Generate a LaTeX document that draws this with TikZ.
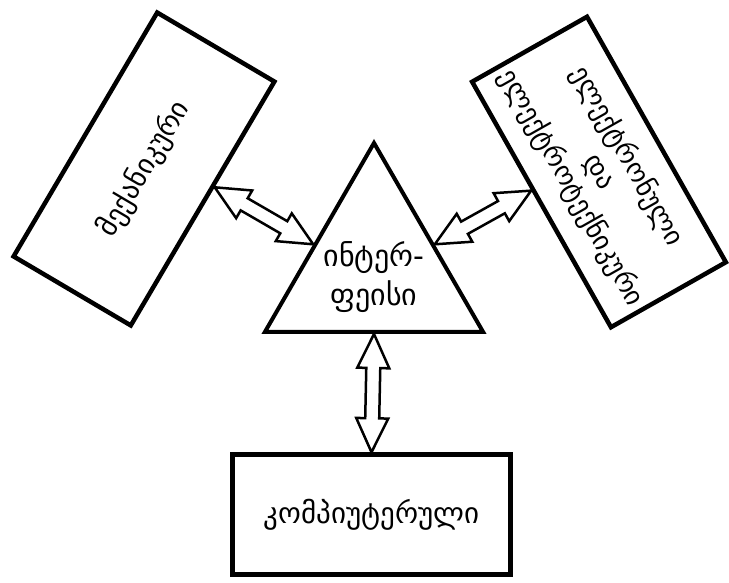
\documentclass[tikz,border=0pt]{standalone}
\usepackage{fontspec}
\setmainfont{DejaVu Sans}
\usetikzlibrary{calc,shapes.geometric}
\pgfdeclarelayer{back}
\pgfsetlayers{back,main}

\tikzset{
  block/.style={draw, line width=4.5pt, inner sep=0pt, align=center},
  hollowarrow/.style={draw, line width=2.5pt, fill=white, line join=miter},
}

% hollow two-headed arrow between two named points
\newcommand\twowayarrow[2]{%
  \coordinate (hA) at ($(#1)!34pt!(#2)$);
  \coordinate (hB) at ($(#2)!34pt!(#1)$);
  \draw[hollowarrow] (#1)
    -- ($(hA)!16pt!90:(#2)$) -- ($(hA)!7pt!90:(#2)$)
    -- ($(hB)!7pt!-90:(#1)$) -- ($(hB)!16pt!-90:(#1)$)
    -- (#2)
    -- ($(hB)!16pt!90:(#1)$) -- ($(hB)!7pt!90:(#1)$)
    -- ($(hA)!7pt!-90:(#2)$) -- ($(hA)!16pt!-90:(#2)$)
    -- cycle;
}

\begin{document}
\begin{tikzpicture}[x=1pt,y=1pt]
\useasboundingbox (0,0) rectangle (729,583);

% the four blocks
\node[block, font=\fontsize{28}{32}\selectfont, rotate=59.5,
  minimum width=283pt, minimum height=136pt]
  (mech) at (144,414) {მექანიკური};
\node[block, font=\fontsize{27}{32}\selectfont, rotate=-60.5,
  minimum width=282pt, minimum height=132pt]
  (elec) at (599,411) {ელექტრონული\\და\\ელექტროტექნიკური};
\node[block, font=\fontsize{29}{34}\selectfont,
  minimum width=278pt, minimum height=120pt]
  (comp) at (371.5,68.5) {კომპიუტერული};
\node[draw, regular polygon, regular polygon sides=3, minimum size=252pt,
  line width=4pt, inner sep=0pt] (iface) at (374,314) {};
\node[font=\fontsize{30}{39}\selectfont, align=center] (ifacetext)
  at ([yshift=-8pt]iface.center) {ინტერ-\\ფეისი};

% attachment points of the arrows
\coordinate (la) at ($(mech.south)!0.14!(mech.south east)$);
\coordinate (lb) at ($(iface.corner 1)!0.54!(iface.corner 2)$);
\coordinate (ra) at ($(iface.corner 1)!0.54!(iface.corner 3)$);
\coordinate (rb) at ($(elec.south)!0.12!(elec.south west)$);

\begin{pgfonlayer}{back}
  \twowayarrow{la}{lb}
  \twowayarrow{ra}{rb}
  \twowayarrow{iface.side 2}{comp.north}
\end{pgfonlayer}
\end{tikzpicture}
\end{document}
